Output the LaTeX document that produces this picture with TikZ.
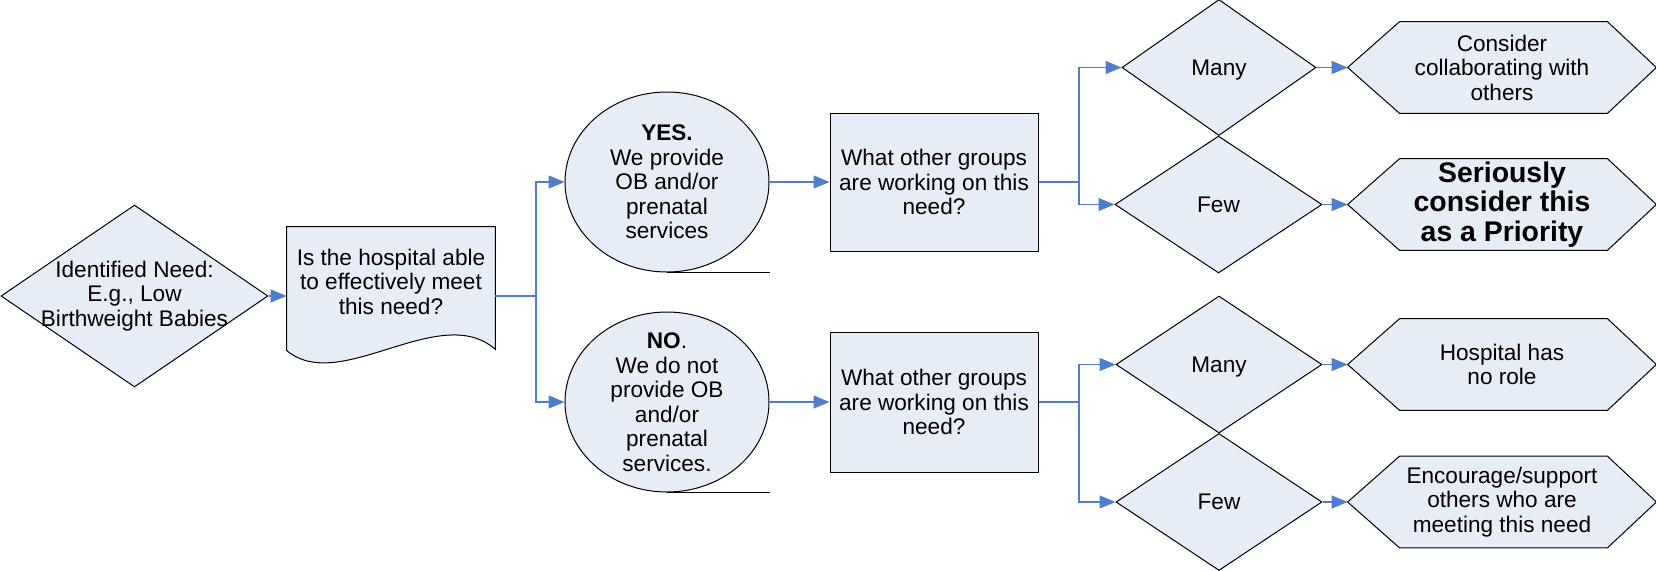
\documentclass[tikz,border=0pt]{standalone}
\usepackage{fontspec}
\setmainfont{Liberation Sans}
\usetikzlibrary{shapes.geometric,arrows.meta}
\definecolor{shapefill}{RGB}{230,237,247}
\definecolor{connblue}{RGB}{79,125,201}
\newcommand{\hexpath}[1]{\draw[hexs] (#1.west) -- ([xshift=26pt]#1.north west) -- ([xshift=-24.5pt]#1.north east) -- (#1.east) -- ([xshift=-24.5pt]#1.south east) -- ([xshift=26pt]#1.south west) -- cycle;}
\begin{document}
\begin{tikzpicture}[x=0.5pt,y=-0.5pt,
  shp/.style={draw=black, line width=0.5pt, fill=shapefill, inner sep=0pt},
  dia/.style={shp, diamond},
  ell/.style={shp, ellipse},
  txt/.style={inner sep=0pt, align=center, font=\fontsize{11.3pt}{12.25pt}\selectfont},
  onetxt/.style={txt, text depth=0pt},
  bigtxt/.style={inner sep=0pt, align=center, font=\fontsize{14.2pt}{14.75pt}\selectfont\bfseries},
  box/.style={shp, rectangle, txt},
  frame/.style={rectangle, draw=none, inner sep=0pt},
  hexs/.style={draw=black, line width=0.5pt, fill=shapefill},
  conn/.style={draw=connblue, line width=0.6pt},
  arr/.style={conn, -{Triangle[length=8pt,width=6.5pt]}}
]
\useasboundingbox (0,0) rectangle (1656,570);

% first decision
\node[dia, minimum width=133.5pt, minimum height=91pt] (d1) at (134.5,296) {};
\node[txt] (d1t) at (d1.center) {Identified Need:\\E.g., Low\\Birthweight Babies};

% document shape
\node[frame, minimum width=104pt, minimum height=69pt] (doc) at (391,296) {};
\draw[hexs] (doc.north west) -- (doc.north east) -- ([yshift=8pt]doc.south east)
  .. controls ([xshift=76.5pt,yshift=32.5pt]doc.south west) and ([xshift=26.5pt,yshift=-15pt]doc.south west) ..
  ([yshift=7.5pt]doc.south west) -- cycle;
\node[txt] (doct) at ([yshift=7.25pt]doc.center) {Is the hospital able\\to effectively meet\\this need?};

% yes / no
\node[ell, minimum width=102pt, minimum height=90pt] (yes) at (667,182) {};
\draw[line width=0.5pt] (yes.south) -- (yes.south -| yes.east);
\node[txt] (yest) at (yes.center) {\textbf{YES.}\\We provide\\OB and/or\\prenatal\\services};

\node[ell, minimum width=102pt, minimum height=90pt] (no) at (667,402) {};
\draw[line width=0.5pt] (no.south) -- (no.south -| no.east);
\node[txt] (not) at (no.center) {\textbf{NO}.\\We do not\\provide OB\\and/or\\prenatal\\services.};

% question boxes
\node[box, minimum width=104pt, minimum height=69pt] (q1) at (934,182) {What other groups\\are working on this\\need?};
\node[box, minimum width=104pt, minimum height=70pt] (q2) at (934,402) {What other groups\\are working on this\\need?};

% many / few diamonds
\node[dia, minimum width=97pt, minimum height=68pt] (m1) at (1219,67.5) {};
\node[onetxt] (m1t) at (m1.center) {Many};
\node[dia, minimum width=103.5pt, minimum height=68.5pt] (f1) at (1218.5,204.5) {};
\node[onetxt] (f1t) at (f1.center) {Few};
\node[dia, minimum width=103pt, minimum height=68.5pt] (m2) at (1219,364.5) {};
\node[onetxt] (m2t) at (m2.center) {Many};
\node[dia, minimum width=103pt, minimum height=68.5pt] (f2) at (1219,502) {};
\node[onetxt] (f2t) at (f2.center) {Few};

% outcome hexagons
\node[frame, minimum width=154pt, minimum height=45.5pt] (h1) at (1502,67.5) {};
\hexpath{h1}
\node[txt] (h1t) at (h1.center) {Consider\\collaborating with\\others};
\node[frame, minimum width=154pt, minimum height=45.5pt] (h2) at (1502,204.5) {};
\hexpath{h2}
\node[bigtxt] (h2t) at (h2.center) {Seriously\\consider this\\as a Priority};
\node[frame, minimum width=154pt, minimum height=45.5pt] (h3) at (1502,364.5) {};
\hexpath{h3}
\node[txt] (h3t) at (h3.center) {Hospital has\\no role};
\node[frame, minimum width=154pt, minimum height=45.5pt] (h4) at (1502,502) {};
\hexpath{h4}
\node[txt] (h4t) at (h4.center) {Encourage/support\\others who are\\meeting this need};

% connectors
\draw[arr] (d1.east) -- (doc.west);
\coordinate (b1) at (536,296);
\draw[conn] (doc.east) -- (b1);
\draw[arr] (b1) |- (yes.west);
\draw[arr] (b1) |- (no.west);
\draw[arr] (yes.east) -- (q1.west);
\draw[arr] (no.east) -- (q2.west);
\coordinate (b2) at (1079,182);
\draw[conn] (q1.east) -- (b2);
\draw[arr] (b2) |- (m1.west);
\draw[arr] (b2) |- (f1.west);
\coordinate (b3) at (1079,402);
\draw[conn] (q2.east) -- (b3);
\draw[arr] (b3) |- (m2.west);
\draw[arr] (b3) |- (f2.west);
\draw[arr] (m1.east) -- (h1.west);
\draw[arr] (f1.east) -- (h2.west);
\draw[arr] (m2.east) -- (h3.west);
\draw[arr] (f2.east) -- (h4.west);
\end{tikzpicture}
\end{document}
